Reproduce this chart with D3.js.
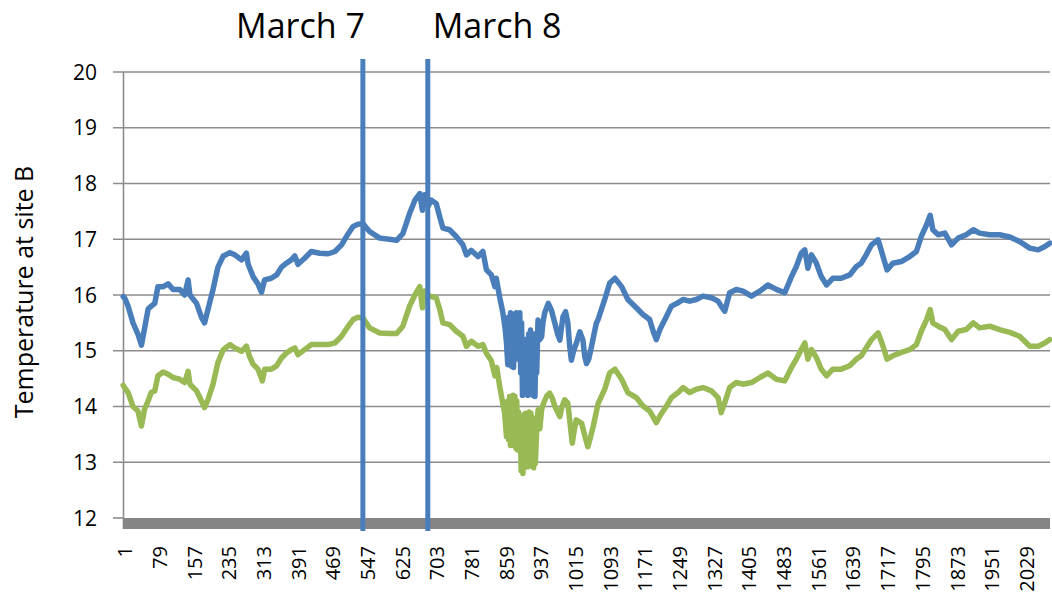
<!DOCTYPE html>
<html>
<head>
<meta charset="utf-8">
<script src="https://cdn.jsdelivr.net/npm/d3@7"></script>
<style>
  body { margin: 0; background: #fff; }
  text { font-family: "Open Sans", sans-serif; fill: #000; }
</style>
</head>
<body>
<svg id="chart" width="1052" height="600"></svg>
<script>
// values: [sample index, temperature]
const blueSeries = [
  [1,15.97],[4,15.95],[12,15.8],[23,15.5],[34,15.3],[42,15.1],[49,15.4],[57,15.75],[64,15.8],[72,15.85],
  [79,16.15],[91,16.15],[102,16.2],[113,16.1],[128,16.1],[139,16.0],[147,16.27],[151,16.0],[166,15.85],[177,15.6],
  [184,15.5],[192,15.75],[203,16.1],[214,16.5],[226,16.7],[241,16.76],[252,16.72],[267,16.63],[278,16.75],[282,16.55],
  [293,16.33],[304,16.2],[312,16.05],[319,16.27],[334,16.3],[346,16.36],[357,16.5],[368,16.57],[379,16.63],[387,16.7],
  [394,16.55],[409,16.66],[424,16.78],[443,16.75],[462,16.74],[477,16.78],[492,16.9],[507,17.1],[518,17.23],[529,17.27],
  [540,17.28],[555,17.14],[578,17.02],[600,17.0],[616,16.98],[630,17.1],[645,17.46],[657,17.7],[668,17.82],[674,17.52],
  [679,17.8],[687,17.6],[694,17.7],[705,17.64],[713,17.4],[720,17.2],[735,17.17],[750,17.05],[765,16.9],[773,16.72],
  [784,16.8],[799,16.69],[810,16.78],[818,16.45],[829,16.36],
  [837,16.15],[840,16.3],[848,15.95],[855,15.68],[860,15.4],[863,15.15],[866,14.75],[868,15.6],[870,14.8],[872,15.68],
  [875,14.72],[877,15.6],[879,14.7],[881,15.66],[883,14.85],[885,15.68],[887,14.9],[889,15.6],[891,14.85],[893,15.68],
  [895,14.6],[897,15.5],[899,14.2],[901,15.1],[903,14.25],[905,15.2],[907,14.3],[909,15.1],[911,14.2],[913,15.3],
  [915,14.25],[917,15.37],[919,14.4],[921,15.2],[923,14.2],[925,15.3],[927,14.18],[929,15.0],[931,14.6],[934,15.55],
  [938,15.2],[942,15.25],[945,15.5],[949,15.68],[957,15.85],[964,15.73],[972,15.49],[978,15.3],[983,15.19],[990,15.61],
  [996,15.7],[1001,15.5],[1005,15.1],[1009,14.83],[1014,15.0],[1020,15.13],[1028,15.34],[1035,15.19],[1039,14.9],[1043,14.77],
  [1048,14.85],[1054,15.07],[1065,15.49],[1069,15.56],
  [1084,15.92],[1095,16.21],[1107,16.3],[1122,16.15],
  [1136,15.92],[1155,15.77],[1170,15.65],[1185,15.56],[1193,15.35],[1200,15.2],[1208,15.38],[1223,15.62],[1234,15.8],[1249,15.86],
  [1260,15.92],[1275,15.89],[1290,15.92],[1305,15.98],[1324,15.95],[1339,15.89],[1346,15.8],[1354,15.71],[1365,16.04],[1380,16.1],
  [1395,16.07],[1414,15.98],[1433,16.07],[1451,16.18],[1470,16.1],[1489,16.04],[1504,16.33],[1515,16.51],[1526,16.75],[1534,16.81],
  [1541,16.48],[1549,16.72],[1560,16.57],[1571,16.33],[1583,16.18],[1597,16.3],[1616,16.3],[1635,16.36],[1650,16.51],[1661,16.57],
  [1672,16.72],[1684,16.9],[1699,16.99],[1710,16.69],[1719,16.45],[1732,16.57],[1751,16.6],[1770,16.69],[1785,16.78],[1796,17.05],
  [1808,17.26],[1816,17.43],[1822,17.17],[1834,17.08],[1849,17.11],[1864,16.9],[1879,17.02],[1897,17.08],[1913,17.17],[1927,17.11],
  [1950,17.08],[1972,17.08],[1995,17.04],[2017,16.96],[2040,16.84],[2059,16.81],[2074,16.87],[2085,16.93]
];

const greenSeries = [
  [1,14.38],[4,14.34],[12,14.25],[23,14.0],[34,13.92],[42,13.65],[49,13.95],[57,14.1],[64,14.25],[72,14.28],
  [79,14.55],[91,14.62],[102,14.58],[113,14.52],[128,14.49],[139,14.43],[147,14.63],[151,14.4],[166,14.28],[177,14.1],
  [184,13.98],[192,14.13],[203,14.4],[214,14.79],[226,15.02],[241,15.11],[252,15.05],[267,14.99],[278,15.08],[285,14.9],
  [293,14.76],[304,14.67],[314,14.46],[319,14.67],[334,14.67],[346,14.73],[357,14.87],[368,14.96],[379,15.02],[387,15.05],
  [394,14.93],[409,15.02],[424,15.11],[443,15.11],[462,15.11],[477,15.14],[492,15.26],[507,15.44],[518,15.56],[529,15.6],
  [540,15.59],[555,15.41],[578,15.32],[600,15.31],[616,15.31],[630,15.44],[645,15.8],[657,16.0],[668,16.15],[674,15.77],
  [679,16.07],[690,15.98],[705,15.95],[713,15.74],[720,15.5],[735,15.47],[750,15.35],[765,15.26],[773,15.08],[784,15.17],
  [799,15.08],[810,15.11],[818,14.95],[829,14.82],
  [837,14.55],[841,14.7],[848,14.35],[852,14.18],[856,14.0],[859,13.88],[863,13.46],[866,14.1],[868,13.4],[870,14.18],
  [872,13.3],[874,14.1],[876,13.34],[878,14.2],[880,13.3],[882,14.18],[884,13.25],[886,14.1],[888,13.22],[890,13.9],
  [892,13.3],[894,13.7],[896,12.85],[898,13.6],[900,12.8],[902,13.85],[904,12.9],[906,13.88],[908,12.95],[910,13.8],
  [912,12.92],[914,13.9],[916,13.0],[918,13.88],[920,12.95],[922,13.8],[924,12.9],[926,13.7],[928,12.98],[931,13.6],
  [934,13.94],[938,13.6],[942,13.94],[946,14.05],[953,14.18],[960,14.24],[966,14.15],[972,14.0],[978,13.9],[983,13.82],
  [988,14.0],[994,14.12],[1001,14.06],[1006,13.7],[1011,13.34],[1015,13.55],[1020,13.76],[1032,13.7],[1040,13.45],[1046,13.28],
  [1052,13.45],[1058,13.64],[1069,14.05],
  [1084,14.31],[1095,14.6],[1107,14.67],[1122,14.49],[1136,14.25],
  [1155,14.16],[1170,14.01],[1185,13.92],[1200,13.71],[1208,13.83],[1223,14.01],[1234,14.16],[1249,14.25],[1260,14.34],[1275,14.25],
  [1290,14.31],[1305,14.34],[1324,14.28],[1339,14.16],[1346,13.89],[1354,14.07],[1365,14.34],[1380,14.43],[1395,14.4],[1414,14.43],
  [1433,14.52],[1451,14.6],[1470,14.49],[1489,14.46],[1504,14.7],[1515,14.85],[1526,15.02],[1534,15.14],[1541,14.85],[1549,15.02],
  [1560,14.88],[1571,14.67],[1583,14.55],[1597,14.67],[1616,14.67],[1635,14.73],[1650,14.85],[1661,14.91],[1672,15.05],[1684,15.2],
  [1699,15.32],[1710,15.08],[1719,14.85],[1732,14.91],[1751,14.97],[1770,15.02],[1785,15.11],[1796,15.35],[1808,15.56],[1816,15.74],
  [1822,15.5],[1834,15.44],[1849,15.38],[1864,15.2],[1879,15.35],[1897,15.38],[1913,15.5],[1927,15.41],[1950,15.44],[1972,15.38],
  [1995,15.33],[2017,15.26],[2040,15.08],[2059,15.08],[2074,15.14],[2085,15.2]
];

const xTickLabels = [1, 79, 157, 235, 313, 391, 469, 547, 625, 703, 781, 859, 937, 1015, 1093,
  1171, 1249, 1327, 1405, 1483, 1561, 1639, 1717, 1795, 1873, 1951, 2029];
const yTicks = [12, 13, 14, 15, 16, 17, 18, 19, 20];
const markerIdx = [540, 686];
const markerLabels = ["March 7", "March 8"];
const nPoints = 2085;

const svg = d3.select("#chart");

const x = d3.scaleLinear().domain([0.5, nPoints + 0.5]).range([123, 1050]);
const y = d3.scaleLinear().domain([12, 20]).range([518, 72]);

// horizontal gridlines + tick marks
svg.append("g")
    .selectAll("line")
    .data(yTicks.filter(d => d > 12))
    .enter().append("line")
    .attr("x1", 113).attr("x2", 1050)
    .attr("y1", d => y(d)).attr("y2", d => y(d))
    .attr("stroke", "#8c8c8c")
    .attr("stroke-width", 1.6);

svg.append("line")
    .attr("x1", 113).attr("x2", 123)
    .attr("y1", y(12)).attr("y2", y(12))
    .attr("stroke", "#8c8c8c").attr("stroke-width", 1.6);

// y axis line
svg.append("line")
    .attr("x1", 123.5).attr("x2", 123.5)
    .attr("y1", y(20)).attr("y2", 529)
    .attr("stroke", "#8c8c8c").attr("stroke-width", 1.6);

// thick floor band along the x axis
svg.append("rect")
    .attr("x", 123).attr("y", y(12))
    .attr("width", 1050 - 123).attr("height", 11)
    .attr("fill", "#858585");

// y labels
svg.append("g")
    .selectAll("text")
    .data(yTicks)
    .enter().append("text")
    .attr("x", 97)
    .attr("y", d => y(d))
    .attr("dy", "0.36em")
    .attr("text-anchor", "end")
    .attr("font-size", 21)
    .text(d => d);

// x labels, rotated
svg.append("g")
    .selectAll("text")
    .data(xTickLabels)
    .enter().append("text")
    .attr("transform", d => "translate(" + (x(d) + 9) + ",546) rotate(-90)")
    .attr("text-anchor", "end")
    .attr("font-size", 20)
    .text(d => d);

// axis title
svg.append("text")
    .attr("transform", "translate(33,292) rotate(-90)")
    .attr("text-anchor", "middle")
    .attr("font-size", 25)
    .text("Temperature at site B");

// series
const line = d3.line()
    .x(d => x(d[0]))
    .y(d => y(d[1]));

svg.append("path")
    .datum(blueSeries)
    .attr("d", line)
    .attr("fill", "none")
    .attr("stroke", "#4a7ebb")
    .attr("stroke-width", 5.5)
    .attr("stroke-linejoin", "round")
    .attr("stroke-linecap", "round");

svg.append("path")
    .datum(greenSeries)
    .attr("d", line)
    .attr("fill", "none")
    .attr("stroke", "#98b954")
    .attr("stroke-width", 5.5)
    .attr("stroke-linejoin", "round")
    .attr("stroke-linecap", "round");

// day markers
svg.append("g")
    .selectAll("line")
    .data(markerIdx)
    .enter().append("line")
    .attr("x1", d => x(d)).attr("x2", d => x(d))
    .attr("y1", 59).attr("y2", 531)
    .attr("stroke", "#4a7ebb")
    .attr("stroke-width", 5);

svg.append("g")
    .selectAll("text")
    .data(markerIdx)
    .enter().append("text")
    .attr("x", (d, i) => i == 0 ? x(d) + 2 : x(d) + 5)
    .attr("y", 38)
    .attr("text-anchor", (d, i) => i == 0 ? "end" : "start")
    .attr("font-size", 34)
    .text((d, i) => markerLabels[i]);
</script>
</body>
</html>
